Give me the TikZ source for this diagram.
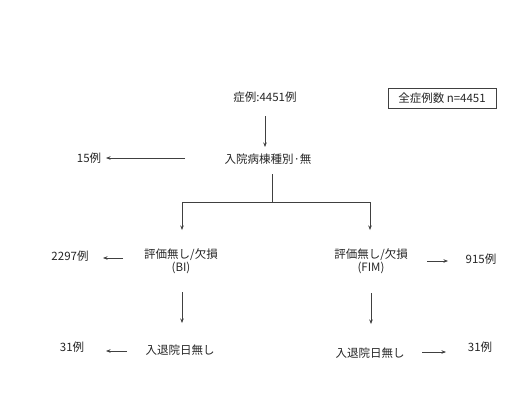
\documentclass[tikz,border=0pt]{standalone}
\usepackage{fontspec}
\setmainfont{Noto Sans CJK JP}
\usetikzlibrary{arrows.meta}
\begin{document}
\begin{tikzpicture}[x=1pt,y=-1pt,
  lbl/.style={inner sep=1pt,font=\fontsize{11.5}{13}\selectfont,align=center,text=black!85},
  conn/.style={draw=black!75,line width=0.6pt},
  arr/.style={conn,-{Stealth[length=4.5pt,width=3.5pt]}}]
\useasboundingbox (0,0) rectangle (508,413);
\node[lbl] (total) at (265,97) {症例:4451例};
\node[lbl,draw=black!75,line width=0.6pt,minimum width=108pt,minimum height=20pt] (all) at (442,98) {全症例数 n=4451};
\node[lbl] (ward) at (268,159) {入院病棟種別·無};
\node[lbl] (n15) at (89,158) {15例};
\node[lbl] (bi) at (181,261) {評価無し/欠損\\(BI)};
\node[lbl] (n2297) at (70,256) {2297例};
\node[lbl] (fim) at (371,261) {評価無し/欠損\\(FIM)};
\node[lbl] (n915) at (481,259) {915例};
\node[lbl] (dl) at (180,350) {入退院日無し};
\node[lbl] (nl31) at (72,347) {31例};
\node[lbl] (dr) at (370,353) {入退院日無し};
\node[lbl] (nr31) at (480,347) {31例};
\coordinate (j) at (272,202);
\coordinate (jl) at (182,202);
\coordinate (jr) at (370,202);
\coordinate (t15) at (185,158);
\coordinate (a2297) at (123,258);
\coordinate (a915) at (427,261);
\coordinate (al31) at (127,351);
\coordinate (ar31) at (422,352);
\draw[arr] (265,116) -- (265,147);
\draw[arr] (t15) -- (106,158);
\draw[conn] (272,174) -- (j);
\draw[conn] (jl) -- (jr);
\draw[arr] (jl) -- (182,230);
\draw[arr] (jr) -- (370,230);
\draw[arr] (a2297) -- (103,258);
\draw[arr] (a915) -- (448,261);
\draw[arr] (182,292) -- (182,323);
\draw[arr] (371,293) -- (371,324);
\draw[arr] (al31) -- (106,351);
\draw[arr] (ar31) -- (446,352);
\end{tikzpicture}
\end{document}
